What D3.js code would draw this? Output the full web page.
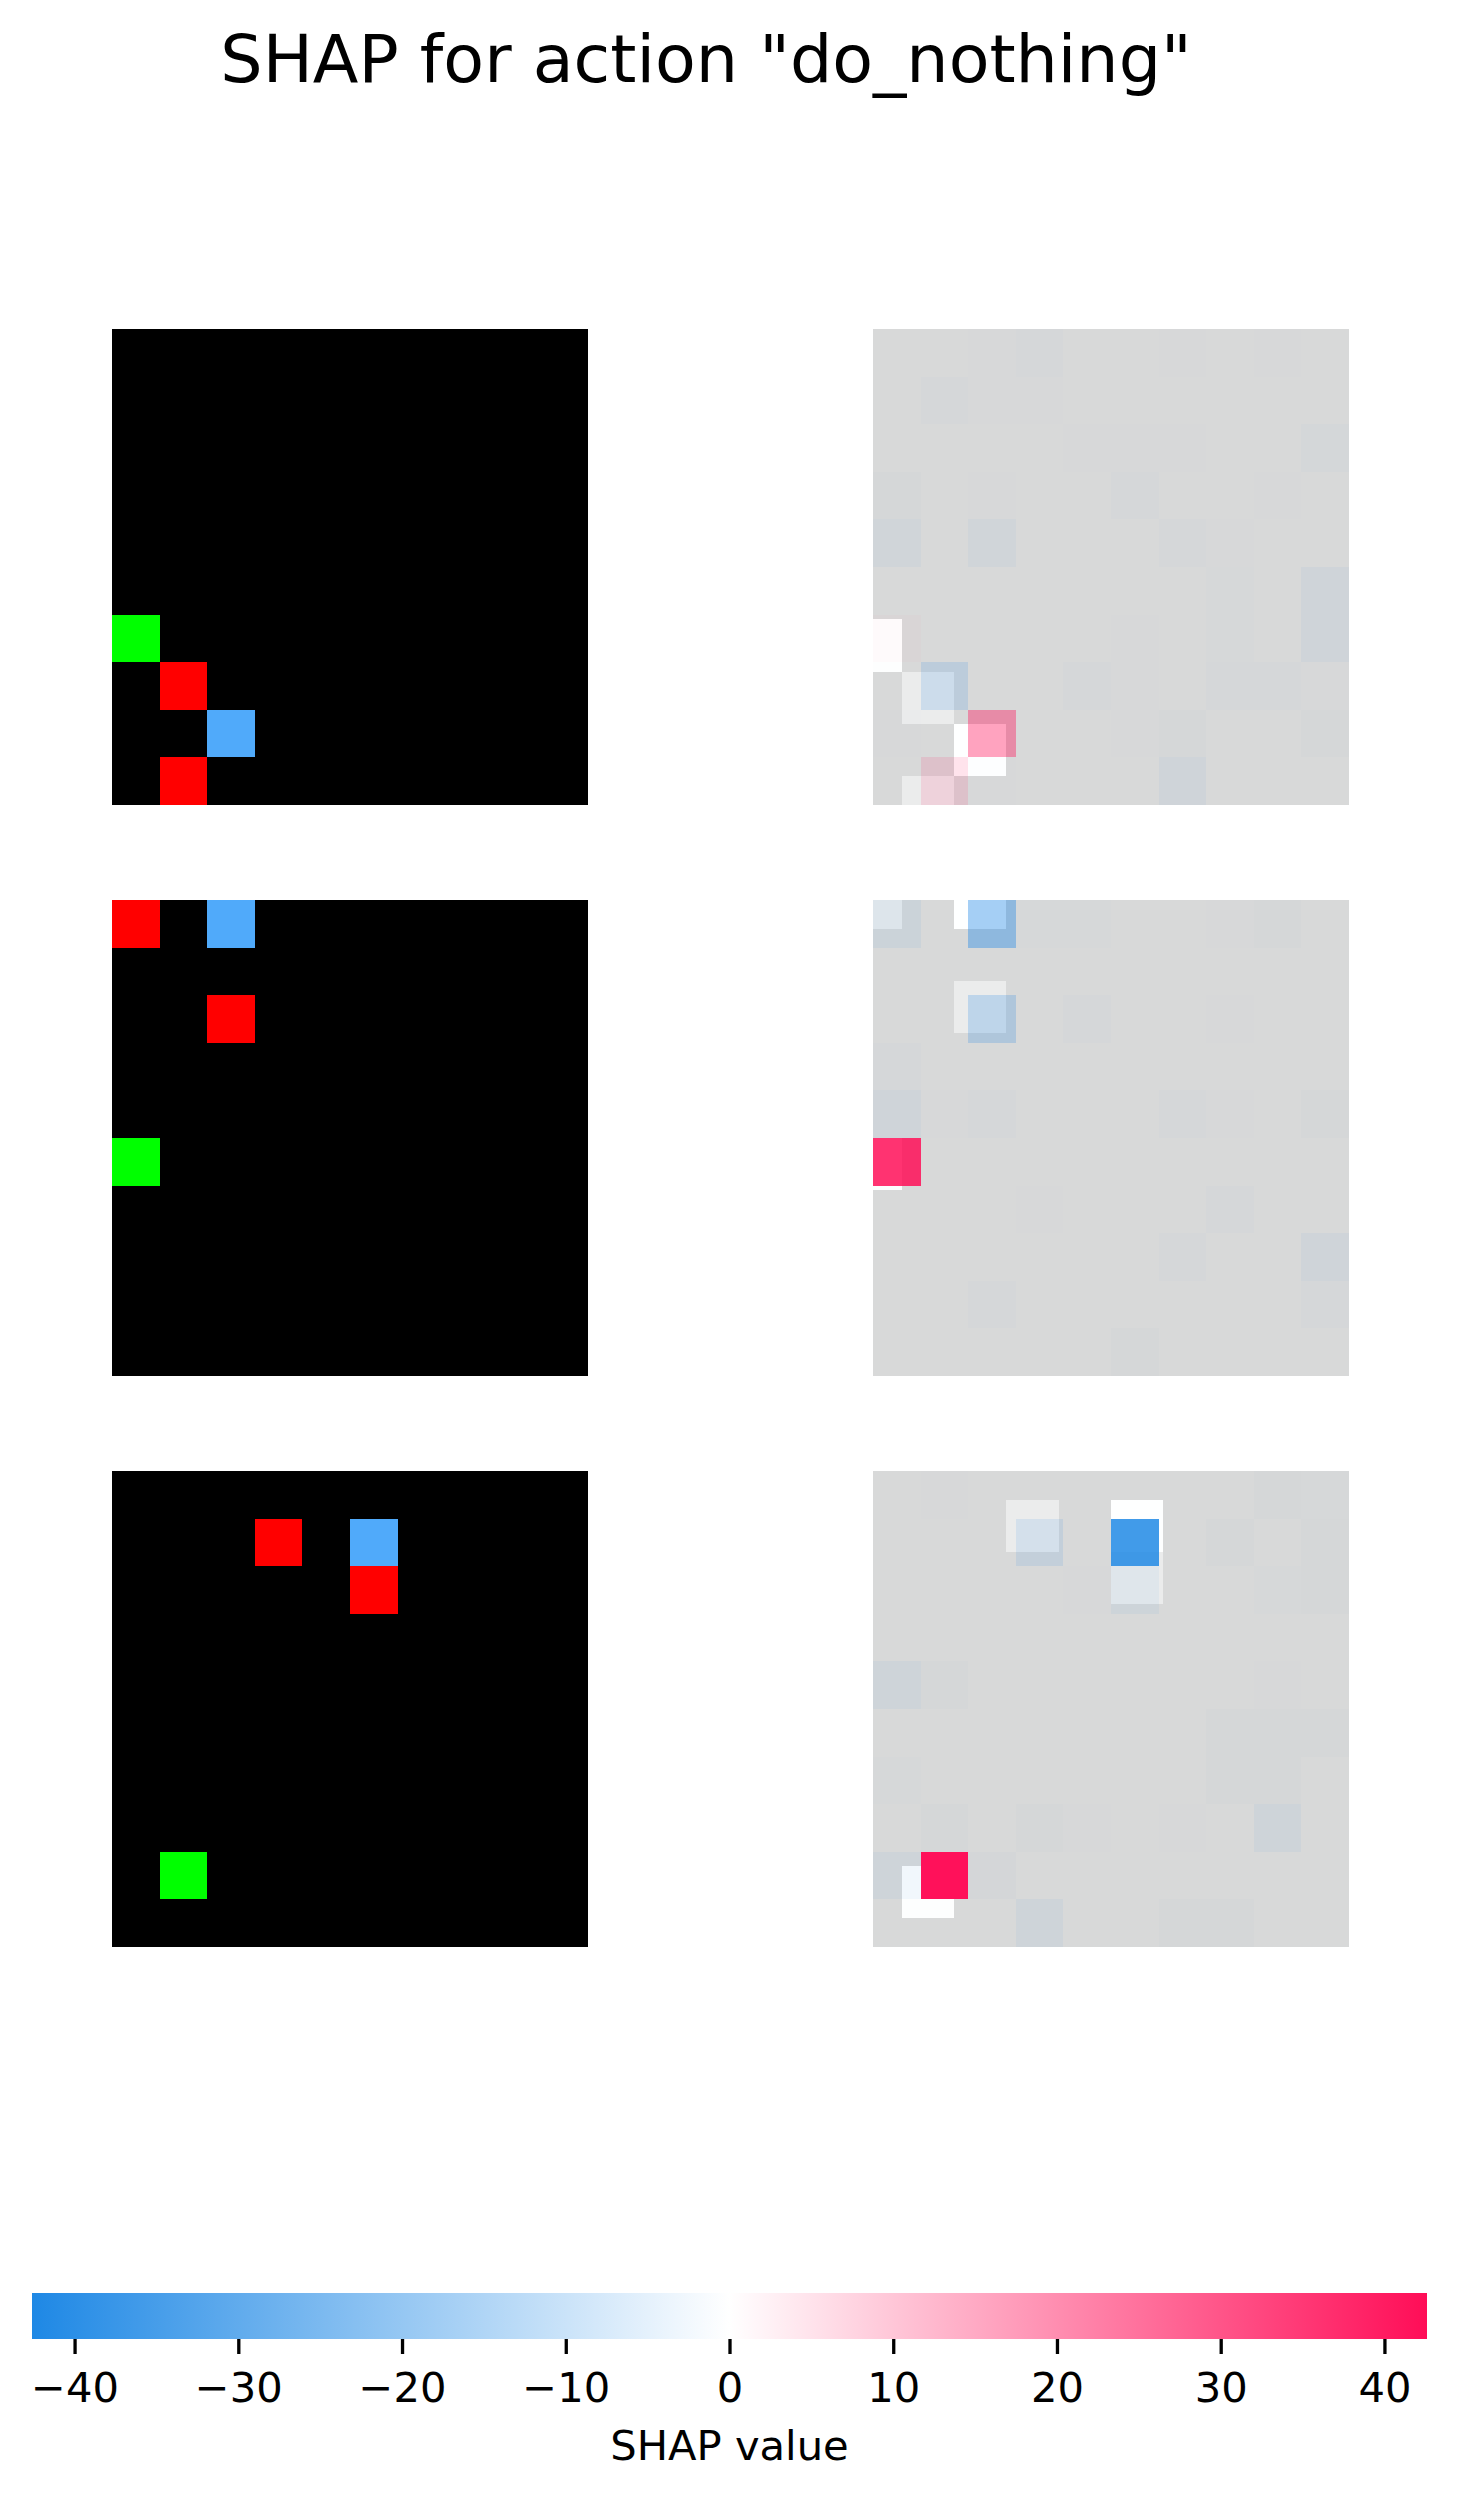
<!DOCTYPE html>
<html><head><meta charset="utf-8">
<script src="https://cdn.jsdelivr.net/npm/d3@7"></script>
<style>body{margin:0;background:#fff} svg{display:block}</style>
</head><body>
<svg id="chart" width="1457" height="2499"></svg>
<script>
// ---------------- data ----------------
const titleText = 'SHAP for action "do_nothing"';
const gridIndex = [0,1,2,3,4,5,6,7,8,9];
// board cells: [row, col, kind]
const board1 = [[6,0,"green"],[7,1,"red"],[8,2,"blue"],[9,1,"red"]];
const board2 = [[0,0,"red"],[0,2,"blue"],[2,2,"red"],[5,0,"green"]];
const board3 = [[1,3,"red"],[1,5,"blue"],[2,5,"red"],[8,1,"green"]];

const shap1 = [
  [-0.2,-0.1,-0.3,-0.7,-0.2,-0.2,-0.3,-0.1,-0.3,-0.2],
  [-0.2,-0.6,-0.4,-0.3,-0.1,-0.1,-0.2,-0.1,-0.2,-0.2],
  [-0.2,-0.2,-0.2,-0.1,-0.3,-0.3,-0.3,-0.2,-0.2,-1.2],
  [-0.8,-0.1,-0.3,-0.2,-0.2,-0.7,-0.1,-0.2,-0.3,-0.1],
  [-1.8,-0.2,-1.8,-0.2,-0.1,-0.2,-0.7,-0.3,-0.1,-0.2],
  [-0.2,-0.2,-0.1,-0.2,-0.2,-0.1,-0.2,-0.5,-0.2,-2.0],
  [ 0.6,-0.1,-0.2,-0.2,-0.1,-0.3,-0.2,-0.5,-0.1,-2.0],
  [-0.2,-6.6,-0.1,-0.2,-0.7,-0.4,-0.2,-0.7,-0.7,-0.3],
  [-0.3,-0.2,16.2,-0.2,-0.2,-0.3,-0.8,-0.2,-0.2,-0.8],
  [-0.2, 4.8,-0.3,-0.1,-0.2,-0.2,-2.0,-0.2,-0.1,-0.2]
];
const shap2 = [
  [-3.0,-0.2,-17.0,-0.5,-0.5,-0.2,-0.1,-0.3,-0.8,-0.2],
  [-0.1,-0.1,-0.2,-0.2,-0.1,-0.2,-0.1,-0.2,-0.2,-0.1],
  [-0.2,-0.1,-9.6,-0.2,-0.6,-0.2,-0.1,-0.4,-0.2,-0.2],
  [-0.7,-0.2,-0.1,-0.1,-0.2,-0.1,-0.1,-0.1,-0.2,-0.2],
  [-2.0,-0.4,-0.7,-0.2,-0.1,-0.2,-0.7,-0.3,-0.1,-0.8],
  [36.0,-0.1,-0.2,-0.2,-0.1,-0.1,-0.2,-0.1,-0.2,-0.2],
  [-0.2,-0.1,-0.2,-0.3,-0.1,-0.1,-0.1,-0.6,-0.2,-0.2],
  [-0.1,-0.2,-0.2,-0.1,-0.2,-0.2,-0.6,-0.2,-0.1,-2.0],
  [-0.2,-0.2,-0.7,-0.2,-0.1,-0.1,-0.2,-0.2,-0.2,-0.6],
  [-0.1,-0.2,-0.2,-0.1,-0.2,-0.8,-0.1,-0.2,-0.2,-0.1]
];
const shap3 = [
  [-0.1,-0.3,-0.1,-0.1,-0.1,-0.1,-0.1,-0.2,-0.8,-0.5],
  [-0.1,-0.2,-0.2,-5.0,-0.1,-36.0,-0.2,-0.8,-0.2,-0.8],
  [-0.2,-0.1,-0.1,-0.2,-0.3,-2.7,-0.2,-0.2,-0.5,-0.8],
  [-0.1,-0.1,-0.1,-0.1,-0.1,-0.1,-0.1,-0.1,-0.1,-0.2],
  [-2.5,-0.8,-0.2,-0.1,-0.2,-0.1,-0.1,-0.2,-0.3,-0.1],
  [-0.2,-0.1,-0.1,-0.1,-0.1,-0.1,-0.2,-0.8,-0.8,-0.8],
  [-0.5,-0.2,-0.1,-0.1,-0.2,-0.1,-0.1,-0.8,-0.8,-0.1],
  [-0.2,-0.8,-0.2,-0.8,-0.4,-0.2,-0.3,-0.1,-2.5,-0.1],
  [-2.5,42.0,-1.0,-0.2,-0.1,-0.1,-0.2,-0.2,-0.1,-0.1],
  [-0.1,-0.2,-0.2,-2.5,-0.1,-0.2,-0.8,-0.8,-0.1,-0.1]
];
const colorbarTicks = [-40,-30,-20,-10,0,10,20,30,40];
const shapMax = 42.6;
const colorbarLabel = "SHAP value";

// ---------------- styles / layout ----------------
const boards = [board1, board2, board3];
const shaps = [shap1, shap2, shap3];
const kindColor = {empty:[0,0,0], green:[0,255,0], red:[255,0,0], blue:[80,170,250]};
const NEG = "#1e88e5", POS = "#ff0d57";
const FONT = "DejaVu Sans, Liberation Sans, sans-serif";
const panelSize = 476;
const leftX = 112, rightX = 873;
const rowTops = [329, 900, 1471];

const svg = d3.select("#chart");
svg.append("rect").attr("width",1457).attr("height",2499).attr("fill","#fff");

svg.append("text")
  .attr("x",706).attr("y",82).attr("text-anchor","middle")
  .style("font-family",FONT).style("font-size","66.7px").attr("fill","#000")
  .text(titleText);

const band = d3.scaleBand().domain(gridIndex).range([0,panelSize]);
const xData = d3.scaleLinear().domain([-0.5,9.5]).range([0,panelSize]);
// gray background image is shown with extent (-1, 10, 10, -1): pixel edges
const grayEdge = d3.scaleLinear().domain([0,10]).range([xData(-1), xData(10)]);
const alphaScale = d3.scaleLinear().domain([0,shapMax]).range([0,1]).clamp(true);

// integer pixel edges so adjacent translucent cells neither overlap nor leave gaps
const b0 = k => Math.round(band(k));
const b1 = k => Math.round(band(k) + band.bandwidth());
const g0 = k => Math.round(grayEdge(k));
const g1 = k => Math.round(grayEdge(k + 1));

const defs = svg.append("defs");

boards.forEach((board, i) => {
  const top = rowTops[i];
  const grid = gridIndex.map(() => gridIndex.map(() => "empty"));
  board.forEach(([r,c,k]) => { grid[r][c] = k; });
  const cells = [];
  gridIndex.forEach(r => gridIndex.forEach(c => cells.push({r, c, k: grid[r][c]})));

  // left: the board
  const gL = svg.append("g").attr("transform",`translate(${leftX},${top})`);
  gL.selectAll("rect").data(cells).join("rect")
    .attr("x", d => b0(d.c)).attr("y", d => b0(d.r))
    .attr("width", d => b1(d.c) - b0(d.c)).attr("height", d => b1(d.r) - b0(d.r))
    .attr("shape-rendering","crispEdges")
    .attr("fill", d => { const q = kindColor[d.k]; return `rgb(${q[0]},${q[1]},${q[2]})`; });

  // right: gray image + shap overlay
  const clipId = "clip"+i;
  defs.append("clipPath").attr("id",clipId)
    .append("rect").attr("x",0).attr("y",0).attr("width",panelSize).attr("height",panelSize);
  const gR = svg.append("g").attr("transform",`translate(${rightX},${top})`)
    .attr("clip-path",`url(#${clipId})`);

  const lum = d => { const q = kindColor[d.k]; return 0.2989*q[0]+0.5870*q[1]+0.1140*q[2]; };
  const ext = d3.extent(cells, lum);
  const grayNorm = d3.scaleLinear().domain(ext).range([0,255]);
  gR.selectAll("rect.gray").data(cells).join("rect").attr("class","gray")
    .attr("x", d => g0(d.c)).attr("y", d => g0(d.r))
    .attr("width", d => g1(d.c) - g0(d.c)).attr("height", d => g1(d.r) - g0(d.r))
    .attr("shape-rendering","crispEdges")
    .attr("fill", d => { const g = Math.round(grayNorm(lum(d))); return `rgb(${g},${g},${g})`; })
    .attr("fill-opacity", 0.15);

  const sv = [];
  gridIndex.forEach(r => gridIndex.forEach(c => sv.push({r, c, v: shaps[i][r][c]})));
  gR.selectAll("rect.sv").data(sv).join("rect").attr("class","sv")
    .attr("x", d => b0(d.c)).attr("y", d => b0(d.r))
    .attr("width", d => b1(d.c) - b0(d.c)).attr("height", d => b1(d.r) - b0(d.r))
    .attr("shape-rendering","crispEdges")
    .attr("fill", d => d.v < 0 ? NEG : POS)
    .attr("fill-opacity", d => alphaScale(Math.abs(d.v)));
});

// ---------------- colorbar ----------------
const cbX = d3.scaleLinear().domain([-shapMax, shapMax]).range([32, 1427]);
const grad = defs.append("linearGradient").attr("id","cbgrad")
  .attr("x1","0%").attr("x2","100%").attr("y1","0%").attr("y2","0%");
grad.append("stop").attr("offset","0%").attr("stop-color",NEG);
grad.append("stop").attr("offset","50%").attr("stop-color","#ffffff");
grad.append("stop").attr("offset","100%").attr("stop-color",POS);
const cbTop = 2293, cbH = 46;
svg.append("rect").attr("x",cbX(-shapMax)).attr("y",cbTop)
  .attr("width",cbX(shapMax)-cbX(-shapMax)).attr("height",cbH)
  .attr("fill","url(#cbgrad)");

const axis = d3.axisBottom(cbX).tickValues(colorbarTicks)
  .tickSize(15).tickPadding(18)
  .tickFormat(d => d < 0 ? "\u2212" + Math.abs(d) : String(d));
const gA = svg.append("g").attr("transform",`translate(0,${cbTop+cbH})`).call(axis);
gA.select(".domain").remove();
gA.selectAll(".tick line").attr("stroke","#000").attr("stroke-width",3.3);
gA.selectAll(".tick text").attr("fill","#000")
  .style("font-family",FONT).style("font-size","41.67px");

svg.append("text").attr("x",729.5).attr("y",2460).attr("text-anchor","middle")
  .style("font-family",FONT).style("font-size","41.67px").attr("fill","#000")
  .text(colorbarLabel);
</script>
</body></html>
